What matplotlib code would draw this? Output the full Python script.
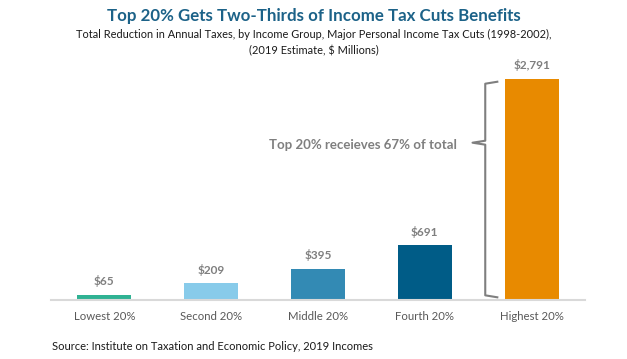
import matplotlib.pyplot as plt

plt.rcParams['font.family'] = ['Lato', 'DejaVu Sans']

# data
groups = ['Lowest 20%', 'Second 20%', 'Middle 20%', 'Fourth 20%', 'Highest 20%']
cuts = [65, 209, 395, 691, 2791]
bar_colors = ['#2fb293', '#88cbea', '#338ab4', '#005c87', '#e88a00']

title = 'Top 20% Gets Two-Thirds of Income Tax Cuts Benefits'
subtitle = ('Total Reduction in Annual Taxes, by Income Group, Major Personal Income Tax Cuts (1998-2002),\n'
            '(2019 Estimate, $ Millions)')
note = 'Top 20% receieves 67% of total'
source = 'Source: Institute on Taxation and Economic Policy, 2019 Incomes'

fig = plt.figure(figsize=(6.27, 3.59), dpi=100)
ax = fig.add_axes([51 / 627, 59 / 359, 534 / 627, 237.5 / 359])

x = range(len(groups))
ax.bar(x, cuts, width=0.506, color=bar_colors, zorder=2)
for xi, v in zip(x, cuts):
    ax.annotate(f'${v:,}', (xi, v), xytext=(0, 5.5), textcoords='offset points',
                ha='center', va='bottom', fontsize=8.5, fontweight='bold', color='#7f7f7f')

ax.set_xlim(-0.5, 4.5)
ax.set_ylim(0, 3000)
ax.set_xticks(list(x))
ax.set_xticklabels(groups, fontsize=8.2, color='#595959')
ax.tick_params(axis='x', length=0, pad=8)
ax.set_yticks([])
for s in ['left', 'right', 'top']:
    ax.spines[s].set_visible(False)
ax.spines['bottom'].set_color('#d9d9d9')
ax.spines['bottom'].set_linewidth(1.5)

# curly bracket beside the top group
bx, hook, tip = 3.566, 3.679, 3.447
top, mid, bot = 2757, 1987, 34
ax.plot([hook, bx, bx, tip, bx, bx, hook], [top, top - 25, mid + 25, mid, mid - 25, bot + 25, bot],
        color='#7f7f7f', lw=1.5, solid_joinstyle='round', clip_on=False)
ax.text(3.3, mid - 30, note, ha='right', va='center', fontsize=9.5, fontweight='bold', color='#7f7f7f')

fig.text(0.5, 1 - 16 / 359, title, ha='center', va='center', fontsize=12.2, fontweight='bold', color='#1c6288')
fig.text(0.5, 1 - 42.5 / 359, subtitle, ha='center', va='center', fontsize=7.9, color='#1a1a1a',
         linespacing=1.5)
fig.text(52 / 627, 1 - 347 / 359, source, ha='left', va='center', fontsize=8, color='#1a1a1a')

fig.savefig('out.png', dpi=100)
